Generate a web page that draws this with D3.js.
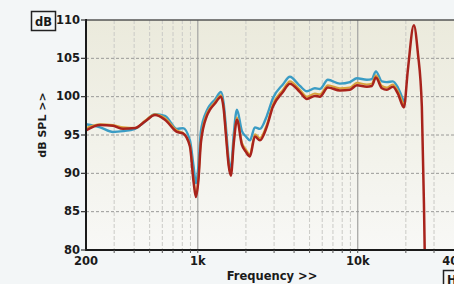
<!DOCTYPE html>
<html><head><meta charset="utf-8">
<script src="https://cdn.jsdelivr.net/npm/d3@7"></script>
<style>
html,body{margin:0;padding:0;background:#f3f6f7;overflow:hidden}
svg{display:block}
text{font-family:"DejaVu Sans",Verdana,sans-serif;font-weight:bold;fill:#1a1a1a}
</style></head><body>
<svg id="c" width="454" height="284"></svg>
<script>
// Frequencies (Hz) and levels (dB SPL)
const freqRed = [200,245,295,341,405,470,540,623,741,808,893,940,974,1010,1046,1140,1192,1280,1396,1450,1500,1560,1610,1680,1757,1888,2000,2118,2276,2447,2704,2950,3405,3767,4352,4811,5400,5800,6508,7736,8934,9885,11400,12260,12990,14160,15200,16590,17830,19440,20590,22440,23770,25180,26000,26600];
const dbRed   = [95.6,96.3,96.2,95.8,95.9,96.8,97.6,97.0,95.4,95.2,93.5,89.0,86.9,89.2,94.0,97.5,98.3,99.1,100.0,98.5,95.0,91.0,89.7,94.0,97.0,93.7,92.8,92.2,94.8,94.3,96.1,98.7,100.6,101.7,100.6,99.7,100.1,100.0,101.2,100.8,100.9,101.5,101.3,101.4,102.5,101.1,100.9,101.3,100.4,98.6,103.5,109.3,105.7,98.7,85.0,72.0];

const freqBlue = [200,245,295,341,405,470,540,623,741,808,893,940,974,1010,1046,1140,1192,1280,1396,1450,1500,1560,1610,1680,1757,1888,2000,2118,2276,2447,2704,2950,3405,3767,4352,4811,5400,5800,6508,7736,8934,9885,11400,12260,12990,14160,15200,16590,17830,19440];
const dbBlue   = [96.4,96.0,95.4,95.5,95.8,96.8,97.7,97.5,95.8,95.9,94.3,91.0,88.7,91.0,95.5,98.2,98.9,99.6,100.6,99.2,96.0,91.8,90.5,95.2,98.3,95.5,94.8,94.3,96.0,95.8,97.5,99.8,101.6,102.6,101.4,100.7,101.1,101.0,102.2,101.7,101.9,102.4,102.2,102.3,103.3,102.0,101.9,102.0,101.2,99.3];

const freqOrange = [200,245,295,341,405,470,540,623,741,808,893,940,974,1010,1046,1140,1192,1280,1396,1450,1500,1560,1610,1680,1757,1888,2000,2118,2276,2447,2704,2950,3405,3767,4352,4811,5400,5800,6508,7736,8934,9885,11400,12260,12990,14160,15200,16590,17830,19440];
const dbOrange   = [95.9,96.4,96.3,96.0,95.9,96.9,97.7,97.2,95.6,95.3,93.7,89.3,87.2,89.5,94.3,97.8,98.5,99.3,100.2,98.7,95.2,91.2,89.9,94.3,97.3,94.0,93.1,92.5,95.1,94.6,96.4,99.0,100.9,102.0,100.9,100.0,100.4,100.3,101.5,101.1,101.2,101.8,101.6,101.7,102.8,101.4,101.2,101.6,100.7,98.8];

const yTicks = [80,85,90,95,100,105,110];
const xLabels = [[200,"200"],[1000,"1k"],[10000,"10k"],[40000,"40k"]];
const minorFreqs = [300,400,500,600,700,800,900,2000,3000,4000,5000,6000,7000,8000,9000,20000,30000];

const svg = d3.select("#c");
const L=86, R=454, T=20, B=250;
const x = d3.scaleLog().domain([200,40000]).range([L,R]);
const y = d3.scaleLinear().domain([80,110]).range([B,T]);

const defs = svg.append("defs");
const g = defs.append("linearGradient").attr("id","bg").attr("x1",0).attr("x2",0).attr("y1",0).attr("y2",1);
g.append("stop").attr("offset","0%").attr("stop-color","#ebeadc");
g.append("stop").attr("offset","55%").attr("stop-color","#f2f2ea");
g.append("stop").attr("offset","100%").attr("stop-color","#f8f8f6");
defs.append("clipPath").attr("id","clip").append("rect").attr("x",L).attr("y",T).attr("width",R-L).attr("height",B-T);

svg.append("rect").attr("x",L).attr("y",T).attr("width",R-L).attr("height",B-T).attr("fill","url(#bg)");

// vertical grid
svg.append("g").selectAll("line").data(minorFreqs).join("line")
  .attr("x1",d=>x(d)).attr("x2",d=>x(d)).attr("y1",T).attr("y2",B)
  .attr("stroke","#cacac6").attr("stroke-width",1).attr("stroke-dasharray","4,2");
svg.append("g").selectAll("line").data([1000,10000]).join("line")
  .attr("x1",d=>x(d)).attr("x2",d=>x(d)).attr("y1",T).attr("y2",B)
  .attr("stroke","#a8a8a6").attr("stroke-width",1.3);
// horizontal grid
svg.append("g").selectAll("line").data(yTicks.filter(v=>v>80&&v<110)).join("line")
  .attr("x1",L).attr("x2",R).attr("y1",d=>y(d)).attr("y2",d=>y(d))
  .attr("stroke","#9a9a98").attr("stroke-width",1).attr("stroke-dasharray","3,2");

// curves
const line = d3.line().x(d=>x(d[0])).y(d=>y(d[1])).curve(d3.curveMonotoneX);
const cg = svg.append("g").attr("clip-path","url(#clip)");
cg.append("path").datum(d3.zip(freqBlue,dbBlue)).attr("d",line).attr("fill","none").attr("stroke","#3b9cc4").attr("stroke-width",2.4);
cg.append("path").datum(d3.zip(freqOrange,dbOrange)).attr("d",line).attr("fill","none").attr("stroke","#d9a23a").attr("stroke-width",2);
cg.append("path").datum(d3.zip(freqRed,dbRed)).attr("d",line).attr("fill","none").attr("stroke","#a8231c").attr("stroke-width",2.5);

// frame
svg.append("line").attr("x1",L).attr("x2",R).attr("y1",T).attr("y2",T).attr("stroke","#555").attr("stroke-width",1.5);
svg.append("line").attr("x1",L).attr("x2",L).attr("y1",T-1).attr("y2",B+1).attr("stroke","#1a1a1a").attr("stroke-width",2);
svg.append("line").attr("x1",L-1).attr("x2",R).attr("y1",B).attr("y2",B).attr("stroke","#1a1a1a").attr("stroke-width",2);

// y axis labels
const ya = svg.append("g");
ya.selectAll("line").data(yTicks).join("line").attr("x1",L-5).attr("x2",L).attr("y1",d=>y(d)).attr("y2",d=>y(d)).attr("stroke","#333").attr("stroke-width",1.2);
ya.selectAll("text").data(yTicks).join("text").attr("x",L-6).attr("y",d=>y(d)+3.5).attr("text-anchor","end").attr("font-size",11.5).text(d=>d);

// x ticks
svg.append("g").selectAll("line").data(minorFreqs.concat([1000,10000])).join("line")
  .attr("x1",d=>x(d)).attr("x2",d=>x(d)).attr("y1",B).attr("y2",B+3).attr("stroke","#555").attr("stroke-width",1);
svg.append("g").selectAll("text").data(xLabels).join("text")
  .attr("x",d=>x(d[0])).attr("y",B+15).attr("text-anchor","middle").attr("font-size",11.5).text(d=>d[1]);

svg.append("text").attr("x",272).attr("y",280).attr("text-anchor","middle").attr("font-size",11.5).text("Frequency >>");
svg.append("text").attr("transform","translate(46,125) rotate(-90)").attr("text-anchor","middle").attr("font-size",11).text("dB SPL >>");

// unit boxes
svg.append("rect").attr("x",31.5).attr("y",11.5).attr("width",24).attr("height",19).attr("fill","none").attr("stroke","#222").attr("stroke-width",1.5);
svg.append("text").attr("x",43.5).attr("y",25.5).attr("text-anchor","middle").attr("font-size",11.5).text("dB");
svg.append("rect").attr("x",443.5).attr("y",270.5).attr("width",26).attr("height",18).attr("fill","none").attr("stroke","#222").attr("stroke-width",1.5);
svg.append("text").attr("x",447).attr("y",284).attr("font-size",11.5).text("Hz");
</script></body></html>
